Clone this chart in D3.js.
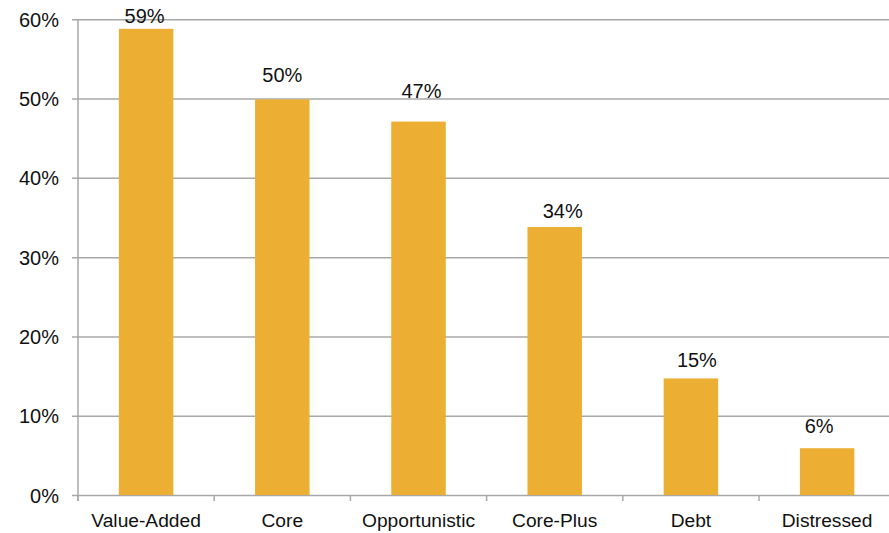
<!DOCTYPE html>
<html>
<head>
<meta charset="utf-8">
<script src="https://cdn.jsdelivr.net/npm/d3@7"></script>
<style>
  html, body { margin: 0; padding: 0; background: #fff; }
  svg { display: block; font-family: "Liberation Sans", Arial, sans-serif; }
</style>
</head>
<body>
<svg id="chart" width="889" height="533"></svg>
<script>
// ---- data ----
const categories = ["Value-Added", "Core", "Opportunistic", "Core-Plus", "Debt", "Distressed"];
const values = [0.588, 0.499, 0.471, 0.338, 0.147, 0.059];
const valueLabels = ["59%", "50%", "47%", "34%", "15%", "6%"];
const yTicks = [0, 0.1, 0.2, 0.3, 0.4, 0.5, 0.6];
const yTickLabels = ["0%", "10%", "20%", "30%", "40%", "50%", "60%"];

// ---- label nudges (style, not data) ----
const labelDx = [-1.5, 0, 3, 8, 6, -8];
const labelDy = [-6.3, -17.3, -24, -9.4, -11, -15];

(function () {
  const svg = d3.select("#chart");
  const plotLeft = 78, plotRight = 895.2, plotTop = 19.3, plotBottom = 495;
  const grey = "#a8a8a8";
  const ink = "#111";

  const x = d3.scaleBand().domain(categories).range([plotLeft, plotRight])
    .paddingInner(0.6).paddingOuter(0.3);
  const y = d3.scaleLinear().domain([0, 0.6]).range([plotBottom, plotTop]);

  // gridlines + y-axis
  const yAxis = d3.axisLeft(y).tickValues(yTicks)
    .tickFormat((d, i) => yTickLabels[i])
    .tickSize(6).tickPadding(13);
  const gy = svg.append("g").attr("transform", `translate(${plotLeft},0)`).call(yAxis);
  gy.select(".domain").remove();
  gy.selectAll(".tick line").attr("x1", -6).attr("x2", plotRight - plotLeft)
    .attr("stroke", grey).attr("stroke-width", 1.5);
  gy.selectAll(".tick text").attr("fill", ink).style("font-size", "20px")
    .style("font-family", "Liberation Sans, Arial, sans-serif")
    .attr("x", -19).attr("dy", "0.35em");

  // vertical axis line
  svg.append("line").attr("x1", plotLeft).attr("x2", plotLeft)
    .attr("y1", y(0.6)).attr("y2", plotBottom + 6)
    .attr("stroke", grey).attr("stroke-width", 1.5);

  // x-axis ticks at band boundaries
  const boundaries = categories.map(c => x(c) - x.step() * x.paddingOuter()).concat([plotRight]);
  svg.append("g").selectAll("line").data(boundaries).join("line")
    .attr("x1", d => d).attr("x2", d => d)
    .attr("y1", plotBottom).attr("y2", plotBottom + 6)
    .attr("stroke", grey).attr("stroke-width", 1.5);

  // x category labels
  svg.append("g").selectAll("text").data(categories).join("text")
    .attr("x", d => x(d) + x.bandwidth() / 2)
    .attr("y", 527)
    .attr("text-anchor", "middle")
    .attr("fill", ink)
    .style("font-size", "19.2px")
    .text(d => d);

  // bars
  svg.append("g").selectAll("rect").data(values).join("rect")
    .attr("x", (d, i) => x(categories[i]))
    .attr("y", d => y(d))
    .attr("width", x.bandwidth())
    .attr("height", d => plotBottom - y(d))
    .attr("fill", "#ECAF33");

  // value labels
  svg.append("g").selectAll("text").data(values).join("text")
    .attr("x", (d, i) => x(categories[i]) + x.bandwidth() / 2 + labelDx[i])
    .attr("y", (d, i) => y(d) + labelDy[i])
    .attr("text-anchor", "middle")
    .attr("fill", ink)
    .style("font-size", "20px")
    .text((d, i) => valueLabels[i]);
})();
</script>
</body>
</html>
